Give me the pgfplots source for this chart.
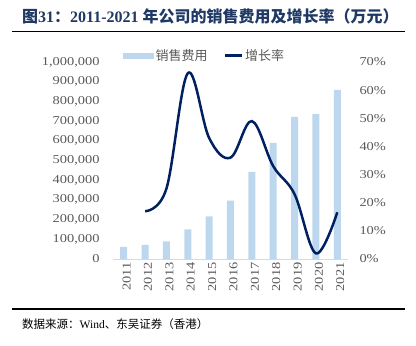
\documentclass[border=0pt]{standalone}
\usepackage{pgfplots}
\pgfplotsset{compat=1.18}
\usepackage{fontspec}
\setmainfont{Liberation Serif}
\newfontfamily\tickfont[FakeStretch=1.2]{Liberation Serif}
\newfontfamily\cjk{Noto Sans CJK SC}
\definecolor{barblue}{HTML}{BDD7EE}
\definecolor{navy}{HTML}{002060}
\definecolor{tickgray}{HTML}{595959}
\definecolor{titlenavy}{HTML}{1F3864}
\definecolor{axisgray}{HTML}{D9D9D9}

\pgfplotstableread{
x val
0 61000
1 72000
2 90000
3 151000
4 217000
5 296000
6 442000
7 589000
8 722000
9 736000
10 858000
}\bars

\pgfplotstableread{
x g
1 17
2 25
3 66
4 43
5 36
6 49
7 33
8 23
9 2
10 16.6
}\growth

\begin{document}
\begin{tikzpicture}
\path[use as bounding box] (0pt,0pt) rectangle (416pt,-346pt);
\node[anchor=west, text=titlenavy, font=\fontsize{16}{19}\selectfont\bfseries, inner sep=0pt] at (22pt,-16pt) {{\cjk 图}31{\cjk ：}2011-2021 {\cjk 年公司的销售费用及增长率（万元）}};
\draw[line width=1.5pt] (12pt,-31.5pt) -- (405pt,-31.5pt);
\draw[line width=2pt] (12pt,-309pt) -- (405pt,-309pt);
\node[anchor=west, font=\fontsize{11.5}{14}\selectfont, inner sep=0pt] at (22pt,-324pt) {{\cjk 数据来源：}Wind{\cjk 、东吴证券（香港）}};

\begin{axis}[
  at={(113pt,-259pt)}, anchor=south west,
  scale only axis, width=235pt, height=197pt,
  xmin=-0.5, xmax=10.5, ymin=0, ymax=1000000,
  axis x line*=bottom, axis y line*=left,
  y axis line style={draw=none},
  x axis line style={axisgray, line width=0.8pt},
  major tick length=0pt,
  xtick={0,...,10},
  xticklabels={2011,2012,2013,2014,2015,2016,2017,2018,2019,2020,2021},
  xticklabel style={rotate=90, anchor=east, font=\fontsize{12}{14}\selectfont\tickfont, text=tickgray, yshift=-3pt},
  ytick={0,100000,...,1000000},
  scaled y ticks=false,
  yticklabel style={font=\fontsize{12}{14}\selectfont\tickfont, text=tickgray, xshift=-10pt},
  /pgf/number format/.cd, fixed, 1000 sep={,}, assume math mode=true,
]
\addplot[ybar, bar width=7pt, fill=barblue, draw=none, bar shift=0pt] table[x=x, y=val] {\bars};
\end{axis}

\begin{axis}[
  at={(113pt,-259pt)}, anchor=south west,
  scale only axis, width=235pt, height=197pt,
  xmin=-0.5, xmax=10.5, ymin=0, ymax=70,
  axis x line=none, axis y line*=right,
  y axis line style={draw=none},
  major tick length=0pt,
  ytick={0,10,...,70},
  yticklabel={\pgfmathprintnumber{\tick}\%},
  yticklabel style={font=\fontsize{12}{14}\selectfont\tickfont, text=tickgray, xshift=8pt},
  /pgf/number format/assume math mode=true,
  legend columns=2,
  legend style={at={(0.0426,1.034)}, anchor=west, draw=none, fill=none, inner sep=0pt,
    font=\fontsize{13}{15}\selectfont\cjk, text=tickgray,
    /tikz/every even column/.append style={column sep=14pt}},
]
\addlegendimage{legend image code/.code={\fill[barblue] (0pt,-2.5pt) rectangle (30pt,2.5pt);}}
\addlegendentry{销售费用}
\addplot[navy, line width=2.5pt, smooth, tension=0.6] table[x=x, y=g] {\growth};
\addlegendentry{增长率}
\end{axis}
\end{tikzpicture}
\end{document}
